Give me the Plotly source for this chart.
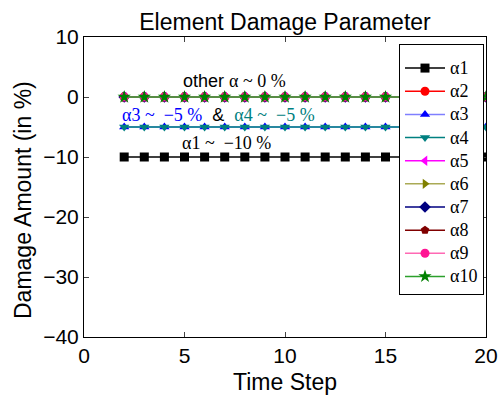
import plotly.graph_objects as go

steps = list(range(2, 21))
names = ["α1", "α2", "α3", "α4", "α5", "α6", "α7", "α8", "α9", "α10"]
levels = [-10, 0, -5, -5, 0, 0, 0, 0, 0, 0]
colors = ["#000000", "#ff0000", "#0000ff", "#008080", "#ff00ff",
          "#808000", "#000080", "#800000", "#ff1493", "#008000"]
line_colors = ["#000000", "#ff0000", "#7f7fff", "#008080", "#ff00ff",
               "#aaaa55", "#000080", "#800000", "#ff69b4", "#2ca02c"]
symbols = ["square", "circle", "triangle-up", "triangle-down", "triangle-left",
           "triangle-right", "diamond", "pentagon", "circle", "star"]

serif = "Liberation Serif"
sans = "Liberation Sans, Arial, sans-serif"

fig = go.Figure()
for n, lv, c, lc, s in zip(names, levels, colors, line_colors, symbols):
    fig.add_trace(go.Scatter(
        x=steps, y=[lv] * len(steps),
        name=f"<span style='font-size:18px'>{n}</span>", mode="lines+markers",
        line=dict(color=lc, width=1.5),
        marker=dict(symbol=s, color=c, size=9 if s != "star" else 10),
    ))

annots = [
    (7.5, 2.6, "other <span style='font-family:Liberation Serif'>α ~ 0 %</span>"),
    (6.7, -3.0, "<span style='font-family:Liberation Serif;color:#0000ff'>α3 ~  −5 %</span>"
                "  &  <span style='font-family:Liberation Serif;color:#008080'>α4 ~  −5 %</span>"),
    (7.1, -7.6, "<span style='font-family:Liberation Serif'>α1 ~  −10 %</span>"),
]
for x, y, t in annots:
    fig.add_annotation(x=x, y=y, text=t, showarrow=False, xref="x", yref="y",
                       font=dict(family=sans, size=18, color="black"))

# pixel helpers for the plot area (84..486 x, 37..337 y)
def px_x(p):
    return (p - 84) / 402

def px_y(p):
    return (337 - p) / 300

fig.add_annotation(x=px_x(23), y=px_y(200), xref="paper", yref="paper",
                   text="Damage Amount (in %)", textangle=-90, showarrow=False,
                   xanchor="center", yanchor="middle",
                   font=dict(family=sans, size=23, color="black"))
fig.add_annotation(x=px_x(285), y=px_y(382), xref="paper", yref="paper",
                   text="Time Step", showarrow=False,
                   xanchor="center", yanchor="middle",
                   font=dict(family=sans, size=23, color="black"))

fig.update_layout(
    width=498, height=396,
    margin=dict(l=84, r=12, t=37, b=59),
    paper_bgcolor="white", plot_bgcolor="white",
    title=dict(text="Element Damage Parameter", x=0.5, xref="paper", xanchor="center",
               y=1 - 22 / 396, yanchor="middle",
               font=dict(family=sans, size=23, color="black")),
    font=dict(family=sans, size=21, color="black"),
    xaxis=dict(range=[0, 20], tickvals=[0, 5, 10, 15, 20], ticks="inside",
               ticklen=5, showline=True, linecolor="black", linewidth=1,
               mirror="ticks", showgrid=False, zeroline=False, automargin=False,
               tickfont=dict(family=sans, size=21)),
    yaxis=dict(range=[-40, 10], tickvals=[-40, -30, -20, -10, 0, 10], ticks="inside",
               ticklen=5, showline=True, linecolor="black", linewidth=1,
               mirror="ticks", showgrid=False, zeroline=False, automargin=False,
               tickfont=dict(family=sans, size=21)),
    legend=dict(x=px_x(399), y=px_y(44), xanchor="left", yanchor="top",
                bgcolor="white", bordercolor="black", borderwidth=1,
                font=dict(family=serif, size=15.5, color="black"),
                title=dict(text=" ", font=dict(size=5)),
                itemwidth=40, tracegroupgap=0),
    showlegend=True,
)

fig.write_html("out.html")
